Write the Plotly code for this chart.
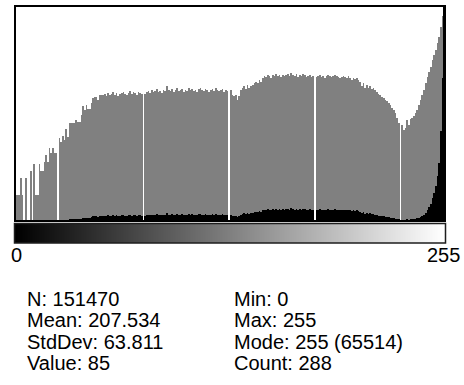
import math
import plotly.graph_objects as go

# ---- data ----
bins = list(range(256))
counts = [
    # 0-52
    3, 3, 3, 6, 3, 0, 6, 0, 0, 8, 0, 11, 3, 3, 11, 8, 8, 12, 16, 12,
    21, 17, 21, 17, 17, 0, 32, 27, 35, 30, 47, 34, 60, 60, 60, 60, 69, 63, 63, 85,
    123, 104, 128, 108, 108, 140, 172, 180, 180, 159, 195, 195, 195,
    # 53-76
    203, 187, 212, 195, 203, 221, 195, 212, 187, 203, 212, 221, 203, 195, 212, 231,
    203, 221, 212, 195, 221, 212, 203, 0,
    # 77-90
    203, 221, 231, 212, 241, 221, 231, 251, 221, 231, 212, 241, 231, 285,
    # 91-126
    241, 231, 251, 221, 241, 262, 231, 241, 251, 221,
    241, 231, 262, 241, 251, 231, 241, 221, 251, 262,
    241, 231, 251, 241, 221, 241, 251, 231, 262, 241,
    231, 241, 251, 221, 241, 231,
    # 127
    0,
    # 128-177
    241, 195, 187, 195, 159, 187, 241, 262, 285, 251,
    297, 262, 285, 297, 323, 337, 323, 366, 337, 398,
    433, 415, 451, 433, 398, 451, 433, 470, 433, 451,
    415, 451, 433, 451, 470, 433, 491, 451, 433, 470,
    415, 451, 433, 470, 451, 415, 433, 451, 415, 433,
    # 178
    0,
    # 179-195
    415, 433, 451, 415, 433, 398, 433, 451, 433, 415, 433, 451, 433, 415, 398, 415, 433,
    # 196-204
    415, 398, 433, 398, 366, 398, 382, 398, 366,
    # 205-228
    337, 285, 323, 262, 297, 262, 285, 251, 262, 241,
    221, 203, 195, 180, 172, 159, 150, 140, 128, 115, 104, 92, 75, 60,
    # 229
    0,
    # 230-255
    56, 45, 50, 69, 55, 72, 75, 80, 92, 104, 128, 159, 195, 241, 320, 415,
    520, 631, 850, 1040, 1300, 1700, 2200, 3400, 5400, 65514,
]
assert len(counts) == 256

axis_labels = ["0", "255"]
stats_left = ["N: 151470", "Mean: 207.534", "StdDev: 63.811", "Value: 85"]
stats_right = ["Min: 0", "Max: 255", "Mode: 255 (65514)", "Count: 288"]

# ImageJ-style display scaling
mode_count = max(counts)
mode_index = counts.index(mode_count)
second = max(c for i, c in enumerate(counts) if i != mode_index)
display_max = int(second * 1.5) if mode_count > 2 * second else mode_count
log_max = math.log(display_max)
log_h = [min(1.0, math.log(c) / log_max) if c > 0 else 0 for c in counts]
lin_h = [min(1.0, c / display_max) for c in counts]

# ---- layout geometry ----
W, H = 464, 385
L, R, T, B = 15, 19, 6, 142
pw, ph = W - L - R, H - T - B


def px(x):
    return (x - L) / pw


def py(y):
    return (H - B - y) / ph


fig = go.Figure()
fig.add_trace(go.Bar(x=bins, y=log_h, width=1.0, marker=dict(color="rgb(128,128,128)", line=dict(width=0)),
                     hoverinfo="skip"))
fig.add_trace(go.Bar(x=bins, y=lin_h, width=1.0, marker=dict(color="rgb(0,0,0)", line=dict(width=0)),
                     hoverinfo="skip"))
fig.add_trace(go.Heatmap(x=bins, y=[0], z=[bins], xaxis="x2", yaxis="y2",
                         colorscale=[[0, "rgb(0,0,0)"], [1, "rgb(255,255,255)"]],
                         zmin=0, zmax=255, showscale=False, hoverinfo="skip"))

font = dict(family="Liberation Sans, Arial, sans-serif", size=20, color="black")
annotations = []
annotations.append(dict(x=px(16), y=py(255.5), text=axis_labels[0], xanchor="center", yanchor="middle"))
annotations.append(dict(x=px(462), y=py(255.5), text=axis_labels[1], xanchor="right", yanchor="middle"))
line_y = [298.5, 320, 341.5, 363]
for i, t in enumerate(stats_left):
    annotations.append(dict(x=px(25), y=py(line_y[i]), text=t, xanchor="left", yanchor="middle"))
for i, t in enumerate(stats_right):
    annotations.append(dict(x=px(232), y=py(line_y[i]), text=t, xanchor="left", yanchor="middle"))
for a in annotations:
    a.update(xref="paper", yref="paper", showarrow=False, font=font)

shapes = [
    dict(type="rect", xref="paper", yref="paper", x0=0, x1=1, y0=py(221), y1=1,
         line=dict(color="black", width=2)),
    dict(type="rect", xref="paper", yref="paper", x0=px(14.5), x1=px(445.5), y0=0, y1=py(223.5),
         line=dict(color="rgb(30,30,30)", width=1.5)),
]

fig.update_layout(
    width=W, height=H,
    margin=dict(l=L, r=R, t=T, b=B, pad=0),
    paper_bgcolor="white", plot_bgcolor="white",
    barmode="overlay", bargap=0, showlegend=False,
    xaxis=dict(range=[-0.5, 255.5], visible=False, fixedrange=True, domain=[0, 1]),
    yaxis=dict(range=[0, 1], visible=False, fixedrange=True, domain=[py(221), 1]),
    xaxis2=dict(range=[-0.5, 255.5], visible=False, anchor="y2", domain=[0, 1]),
    yaxis2=dict(range=[-0.5, 0.5], visible=False, anchor="x2", domain=[0, py(223.5)]),
    annotations=annotations, shapes=shapes,
)

fig.write_html("out.html", config=dict(displayModeBar=False, staticPlot=True),
               post_script="document.body.style.margin='0';document.body.style.overflow='hidden';")
